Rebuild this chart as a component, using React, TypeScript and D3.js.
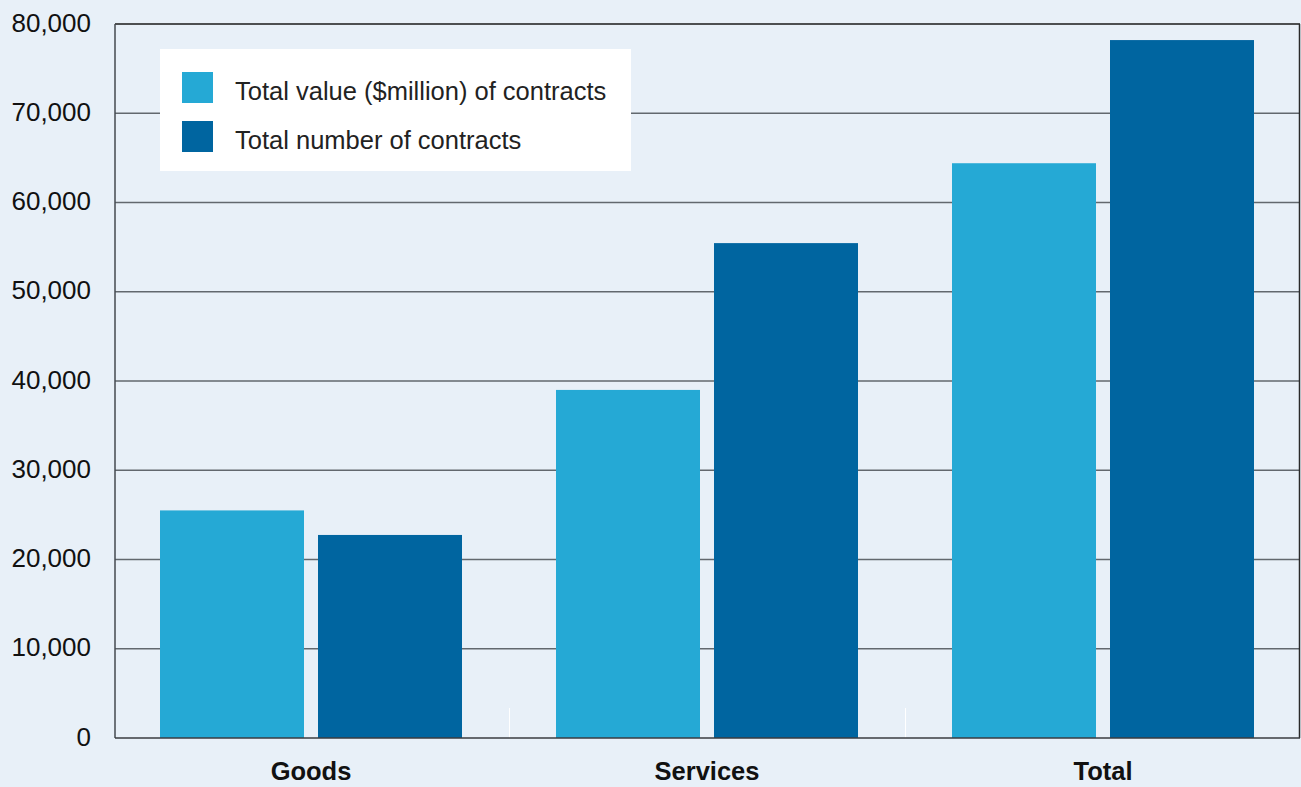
import React from "react";
import * as d3 from "d3";

const categories = ["Goods", "Services", "Total"];
const seriesNames = ["Total value ($million) of contracts", "Total number of contracts"];
const valueSeries = [25500, 39000, 64400];
const numberSeries = [22750, 55450, 78200];
const yTicks = [0, 10000, 20000, 30000, 40000, 50000, 60000, 70000, 80000];
const colors = ["#25a9d5", "#0065a0"];

const W = 1301;
const H = 787;
const left = 115;
const right = 1300;
const top = 24;
const bottom = 738;
const font = "'Liberation Sans', Arial, Helvetica, sans-serif";

export default function App() {
  const x = d3.scaleBand<string>().domain(categories).range([left, left + 3 * 396]).padding(0);
  const sub = d3
    .scaleBand<number>()
    .domain([0, 1])
    .range([45, 347])
    .paddingInner(14 / 158)
    .paddingOuter(0);
  const y = d3.scaleLinear().domain([0, 80000]).range([bottom, top]);
  const fmt = d3.format(",");
  const series = [valueSeries, numberSeries];

  return (
    <svg width={W} height={H} style={{ position: "absolute", left: 0, top: 0 }} fontFamily={font}>
      <rect x={0} y={0} width={W} height={H} fill="#e8f0f8" />
      {/* gridlines */}
      {yTicks
        .filter((t) => t > 0 && t < 80000)
        .map((t) => (
          <line key={t} x1={left} x2={right} y1={y(t)} y2={y(t)} stroke="#62686e" strokeWidth={1.5} />
        ))}
      {/* white band separators */}
      {categories.slice(1).map((c) => (
        <line key={c} x1={x(c)! - 1.5} x2={x(c)! - 1.5} y1={bottom - 30} y2={bottom} stroke="#ffffff" strokeWidth={1} />
      ))}
      {/* bars */}
      {series.map((vals, si) =>
        categories.map((c, ci) => (
          <rect
            key={`${si}-${c}`}
            x={x(c)! + sub(si)!}
            y={y(vals[ci])}
            width={sub.bandwidth()}
            height={bottom - y(vals[ci])}
            fill={colors[si]}
          />
        ))
      )}
      {/* frame */}
      <line x1={left} x2={right} y1={top} y2={top} stroke="#1a1a1a" strokeWidth={1.5} />
      <line x1={right - 0.5} x2={right - 0.5} y1={top} y2={bottom} stroke="#2a2a2a" strokeWidth={1.5} />
      <line x1={left} x2={left} y1={top} y2={bottom} stroke="#444a50" strokeWidth={1.5} />
      <line x1={left} x2={right} y1={bottom} y2={bottom} stroke="#3a3d40" strokeWidth={1.5} />
      {/* y labels */}
      {yTicks.map((t) => (
        <text key={t} x={91} y={y(t) + 7.5} textAnchor="end" fontSize={26} fill="#111">
          {fmt(t)}
        </text>
      ))}
      {/* x labels */}
      {categories.map((c) => (
        <text key={c} x={x(c)! + 196} y={780} textAnchor="middle" fontSize={25.5} fontWeight="bold" fill="#111">
          {c}
        </text>
      ))}
      {/* legend */}
      <rect x={160} y={49} width={471} height={122} fill="#ffffff" />
      {seriesNames.map((n, i) => (
        <g key={n}>
          <rect x={182} y={72 + i * 49} width={31} height={31} fill={colors[i]} />
          <text x={235} y={100 + i * 49} fontSize={25.5} fill="#222">
            {n}
          </text>
        </g>
      ))}
    </svg>
  );
}
